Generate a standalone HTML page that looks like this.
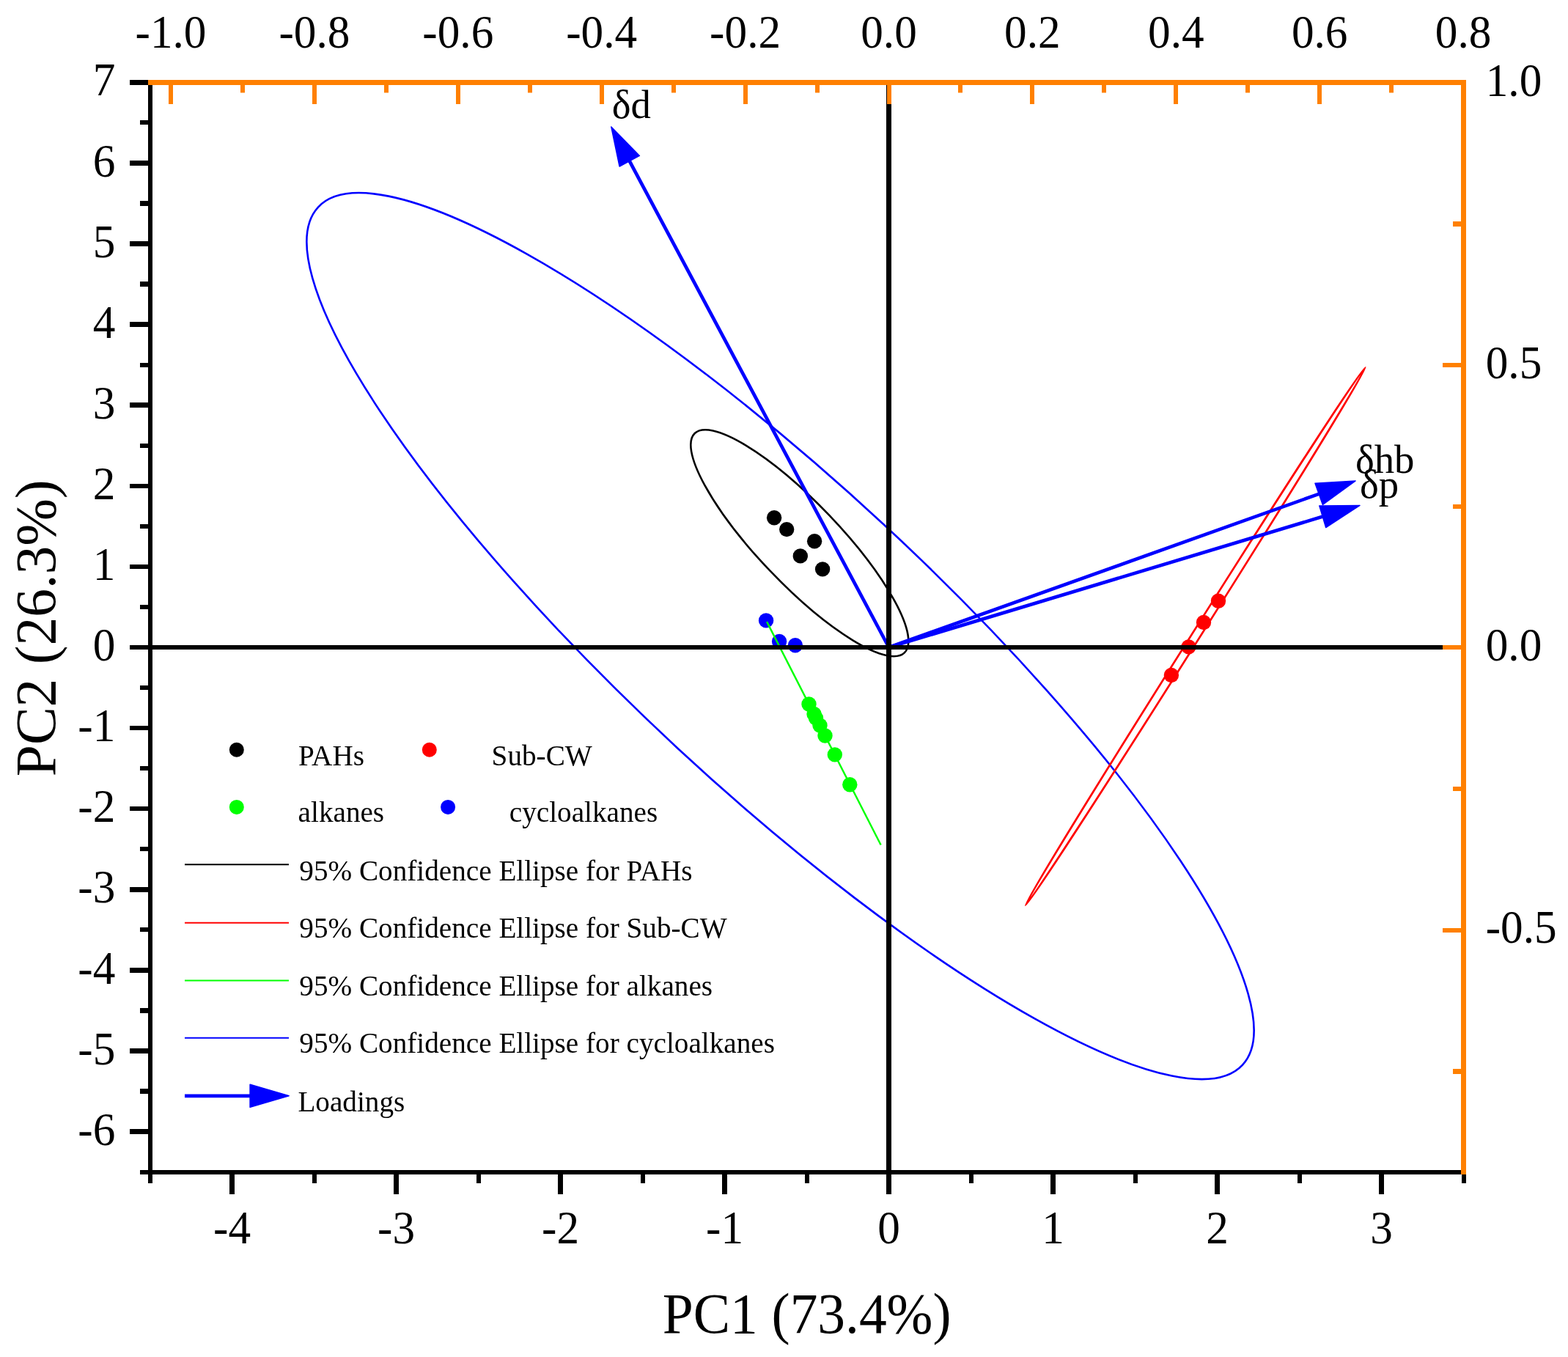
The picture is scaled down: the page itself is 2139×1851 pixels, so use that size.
<!DOCTYPE html>
<html><head><meta charset="utf-8"><title>PCA biplot</title>
<style>html,body{margin:0;padding:0;background:#fff;}svg{display:block;}
text{font-family:"Liberation Serif","Times New Roman",serif;fill:#000;}</style></head>
<body><svg width="2139" height="1851" viewBox="0 0 2139 1851">
<rect width="2139" height="1851" fill="#fff"/>
<circle cx="1056.1" cy="706.2" r="10.2" fill="#000"/>
<circle cx="1073.2" cy="722.1" r="10.2" fill="#000"/>
<circle cx="1111.1" cy="738.2" r="10.2" fill="#000"/>
<circle cx="1091.8" cy="758.4" r="10.2" fill="#000"/>
<circle cx="1122.1" cy="776.4" r="10.2" fill="#000"/>
<circle cx="1662" cy="819.8" r="10.2" fill="#FF0000"/>
<circle cx="1642" cy="849" r="10.2" fill="#FF0000"/>
<circle cx="1621.5" cy="882.4" r="10.2" fill="#FF0000"/>
<circle cx="1597.9" cy="921" r="10.2" fill="#FF0000"/>
<circle cx="1045.07" cy="846.4" r="10.2" fill="#0000FF"/>
<circle cx="1063.05" cy="875" r="10.2" fill="#0000FF"/>
<circle cx="1084.9" cy="880.3" r="10.2" fill="#0000FF"/>
<circle cx="1103.5" cy="960.5" r="10.2" fill="#00FF00"/>
<circle cx="1110.5" cy="974" r="10.2" fill="#00FF00"/>
<circle cx="1113" cy="979.5" r="10.2" fill="#00FF00"/>
<circle cx="1118.5" cy="989.5" r="10.2" fill="#00FF00"/>
<circle cx="1125.5" cy="1003.5" r="10.2" fill="#00FF00"/>
<circle cx="1138.8" cy="1029.4" r="10.2" fill="#00FF00"/>
<circle cx="1159.3" cy="1070.2" r="10.2" fill="#00FF00"/>
<ellipse cx="1064.5" cy="867.6" rx="860.1" ry="207.5" transform="rotate(42.86 1064.5 867.6)" fill="none" stroke="#0000FF" stroke-width="2.6"/>
<ellipse cx="1090.8" cy="740.7" rx="207.0" ry="55.35" transform="rotate(46.3 1090.8 740.7)" fill="none" stroke="#000" stroke-width="2.6"/>
<ellipse cx="1630.75" cy="868.0" rx="434" ry="5.6" transform="rotate(-57.72 1630.75 868.0)" fill="none" stroke="#FF0000" stroke-width="2.6"/>
<line x1="1046.1" y1="848.1" x2="1201.6" y2="1152.5" stroke="#00FF00" stroke-width="2.4"/>
<line x1="1212.5" y1="883.0" x2="857.8" y2="217.9" stroke="#0000FF" stroke-width="4.7"/><polygon points="833.8,172.9 872.4,212.4 845.1,227.0" fill="#0000FF" stroke="#0000FF" stroke-width="1.5" stroke-linejoin="round"/>
<line x1="1212.5" y1="883.0" x2="1801.1" y2="673.1" stroke="#0000FF" stroke-width="4.7"/><polygon points="1849.1,656.0 1804.4,688.4 1794.0,659.2" fill="#0000FF" stroke="#0000FF" stroke-width="1.5" stroke-linejoin="round"/>
<line x1="1212.5" y1="883.0" x2="1806.2" y2="704.1" stroke="#0000FF" stroke-width="4.7"/><polygon points="1855.0,689.4 1808.7,719.5 1799.8,689.9" fill="#0000FF" stroke="#0000FF" stroke-width="1.5" stroke-linejoin="round"/>
<rect x="208" y="880" width="1785" height="6" fill="#000"/>
<rect x="1209" y="116" width="7" height="1480" fill="#000"/>
<rect x="202" y="109" width="6" height="1505" fill="#000"/>
<rect x="191" y="1596" width="1802" height="6" fill="#000"/>
<rect x="177" y="1540" width="25" height="7" fill="#000"/>
<rect x="177" y="1430" width="25" height="7" fill="#000"/>
<rect x="177" y="1320" width="25" height="7" fill="#000"/>
<rect x="177" y="1210" width="25" height="7" fill="#000"/>
<rect x="177" y="1100" width="25" height="6" fill="#000"/>
<rect x="177" y="990" width="25" height="6" fill="#000"/>
<rect x="177" y="880" width="25" height="6" fill="#000"/>
<rect x="177" y="770" width="25" height="6" fill="#000"/>
<rect x="177" y="660" width="25" height="6" fill="#000"/>
<rect x="177" y="549" width="25" height="7" fill="#000"/>
<rect x="177" y="439" width="25" height="7" fill="#000"/>
<rect x="177" y="329" width="25" height="7" fill="#000"/>
<rect x="177" y="219" width="25" height="7" fill="#000"/>
<rect x="177" y="109" width="25" height="7" fill="#000"/>
<rect x="191" y="1596" width="11" height="6" fill="#000"/>
<rect x="191" y="1485" width="11" height="7" fill="#000"/>
<rect x="191" y="1375" width="11" height="7" fill="#000"/>
<rect x="191" y="1265" width="11" height="6" fill="#000"/>
<rect x="191" y="1155" width="11" height="6" fill="#000"/>
<rect x="191" y="1045" width="11" height="6" fill="#000"/>
<rect x="191" y="935" width="11" height="6" fill="#000"/>
<rect x="191" y="825" width="11" height="6" fill="#000"/>
<rect x="191" y="715" width="11" height="6" fill="#000"/>
<rect x="191" y="605" width="11" height="6" fill="#000"/>
<rect x="191" y="495" width="11" height="6" fill="#000"/>
<rect x="191" y="384" width="11" height="7" fill="#000"/>
<rect x="191" y="274" width="11" height="7" fill="#000"/>
<rect x="191" y="164" width="11" height="6" fill="#000"/>
<rect x="313" y="1602" width="7" height="27" fill="#000"/>
<rect x="537" y="1602" width="7" height="27" fill="#000"/>
<rect x="761" y="1602" width="7" height="27" fill="#000"/>
<rect x="985" y="1602" width="7" height="27" fill="#000"/>
<rect x="1209" y="1602" width="7" height="27" fill="#000"/>
<rect x="1433" y="1602" width="7" height="27" fill="#000"/>
<rect x="1657" y="1602" width="7" height="27" fill="#000"/>
<rect x="1881" y="1602" width="7" height="27" fill="#000"/>
<rect x="426" y="1602" width="6" height="12" fill="#000"/>
<rect x="650" y="1602" width="6" height="12" fill="#000"/>
<rect x="874" y="1602" width="6" height="12" fill="#000"/>
<rect x="1098" y="1602" width="6" height="12" fill="#000"/>
<rect x="1322" y="1602" width="6" height="12" fill="#000"/>
<rect x="1546" y="1602" width="6" height="12" fill="#000"/>
<rect x="1770" y="1602" width="6" height="12" fill="#000"/>
<rect x="1994" y="1602" width="6" height="12" fill="#000"/>
<rect x="202" y="109" width="1798" height="7" fill="#FF8000"/>
<rect x="177" y="109" width="25" height="7" fill="#000"/>
<rect x="1993" y="109" width="7" height="1493" fill="#FF8000"/>
<rect x="230" y="116" width="6" height="26" fill="#FF8000"/>
<rect x="426" y="116" width="6" height="26" fill="#FF8000"/>
<rect x="622" y="116" width="6" height="26" fill="#FF8000"/>
<rect x="818" y="116" width="6" height="26" fill="#FF8000"/>
<rect x="1014" y="116" width="6" height="26" fill="#FF8000"/>
<rect x="1210" y="116" width="6" height="26" fill="#FF8000"/>
<rect x="1405" y="116" width="6" height="26" fill="#FF8000"/>
<rect x="1601" y="116" width="6" height="26" fill="#FF8000"/>
<rect x="1797" y="116" width="6" height="26" fill="#FF8000"/>
<rect x="1993" y="116" width="6" height="26" fill="#FF8000"/>
<rect x="328" y="116" width="6" height="10.5" fill="#FF8000"/>
<rect x="524" y="116" width="6" height="10.5" fill="#FF8000"/>
<rect x="720" y="116" width="6" height="10.5" fill="#FF8000"/>
<rect x="916" y="116" width="6" height="10.5" fill="#FF8000"/>
<rect x="1112" y="116" width="6" height="10.5" fill="#FF8000"/>
<rect x="1307" y="116" width="6" height="10.5" fill="#FF8000"/>
<rect x="1503" y="116" width="6" height="10.5" fill="#FF8000"/>
<rect x="1699" y="116" width="6" height="10.5" fill="#FF8000"/>
<rect x="1895" y="116" width="6" height="10.5" fill="#FF8000"/>
<rect x="1968" y="1266" width="25" height="6" fill="#FF8000"/>
<rect x="1968" y="880" width="25" height="6" fill="#FF8000"/>
<rect x="1968" y="495" width="25" height="6" fill="#FF8000"/>
<rect x="1968" y="110" width="25" height="6" fill="#FF8000"/>
<rect x="1982" y="1458" width="11" height="7" fill="#FF8000"/>
<rect x="1982" y="1073" width="11" height="6" fill="#FF8000"/>
<rect x="1982" y="688" width="11" height="6" fill="#FF8000"/>
<rect x="1982" y="302" width="11" height="7" fill="#FF8000"/>
<text transform="translate(157.30,1561.70) scale(0.968,1)" font-size="63.3" text-anchor="end">-6</text>
<text transform="translate(157.30,1451.60) scale(0.968,1)" font-size="63.3" text-anchor="end">-5</text>
<text transform="translate(157.30,1341.50) scale(0.968,1)" font-size="63.3" text-anchor="end">-4</text>
<text transform="translate(157.30,1231.40) scale(0.968,1)" font-size="63.3" text-anchor="end">-3</text>
<text transform="translate(157.30,1121.30) scale(0.968,1)" font-size="63.3" text-anchor="end">-2</text>
<text transform="translate(157.30,1011.20) scale(0.968,1)" font-size="63.3" text-anchor="end">-1</text>
<text transform="translate(157.30,901.10) scale(0.968,1)" font-size="63.3" text-anchor="end">0</text>
<text transform="translate(157.30,791.00) scale(0.968,1)" font-size="63.3" text-anchor="end">1</text>
<text transform="translate(157.30,680.90) scale(0.968,1)" font-size="63.3" text-anchor="end">2</text>
<text transform="translate(157.30,570.80) scale(0.968,1)" font-size="63.3" text-anchor="end">3</text>
<text transform="translate(157.30,460.70) scale(0.968,1)" font-size="63.3" text-anchor="end">4</text>
<text transform="translate(157.30,350.60) scale(0.968,1)" font-size="63.3" text-anchor="end">5</text>
<text transform="translate(157.30,240.50) scale(0.968,1)" font-size="63.3" text-anchor="end">6</text>
<text transform="translate(157.30,130.40) scale(0.968,1)" font-size="63.3" text-anchor="end">7</text>
<text transform="translate(316.50,1696.10) scale(0.968,1)" font-size="63.3" text-anchor="middle">-4</text>
<text transform="translate(540.50,1696.10) scale(0.968,1)" font-size="63.3" text-anchor="middle">-3</text>
<text transform="translate(764.50,1696.10) scale(0.968,1)" font-size="63.3" text-anchor="middle">-2</text>
<text transform="translate(988.50,1696.10) scale(0.968,1)" font-size="63.3" text-anchor="middle">-1</text>
<text transform="translate(1212.50,1696.10) scale(0.968,1)" font-size="63.3" text-anchor="middle">0</text>
<text transform="translate(1436.50,1696.10) scale(0.968,1)" font-size="63.3" text-anchor="middle">1</text>
<text transform="translate(1660.50,1696.10) scale(0.968,1)" font-size="63.3" text-anchor="middle">2</text>
<text transform="translate(1884.50,1696.10) scale(0.968,1)" font-size="63.3" text-anchor="middle">3</text>
<text transform="translate(233.00,65.20) scale(0.968,1)" font-size="63.3" text-anchor="middle">-1.0</text>
<text transform="translate(428.90,65.20) scale(0.968,1)" font-size="63.3" text-anchor="middle">-0.8</text>
<text transform="translate(624.80,65.20) scale(0.968,1)" font-size="63.3" text-anchor="middle">-0.6</text>
<text transform="translate(820.70,65.20) scale(0.968,1)" font-size="63.3" text-anchor="middle">-0.4</text>
<text transform="translate(1016.60,65.20) scale(0.968,1)" font-size="63.3" text-anchor="middle">-0.2</text>
<text transform="translate(1212.50,65.20) scale(0.968,1)" font-size="63.3" text-anchor="middle">0.0</text>
<text transform="translate(1408.40,65.20) scale(0.968,1)" font-size="63.3" text-anchor="middle">0.2</text>
<text transform="translate(1604.30,65.20) scale(0.968,1)" font-size="63.3" text-anchor="middle">0.4</text>
<text transform="translate(1800.20,65.20) scale(0.968,1)" font-size="63.3" text-anchor="middle">0.6</text>
<text transform="translate(1996.10,65.20) scale(0.968,1)" font-size="63.3" text-anchor="middle">0.8</text>
<text transform="translate(2026.70,130.50) scale(0.968,1)" font-size="63.3" text-anchor="start">1.0</text>
<text transform="translate(2026.70,515.75) scale(0.968,1)" font-size="63.3" text-anchor="start">0.5</text>
<text transform="translate(2026.70,901.00) scale(0.968,1)" font-size="63.3" text-anchor="start">0.0</text>
<text transform="translate(2026.70,1286.25) scale(0.968,1)" font-size="63.3" text-anchor="start">-0.5</text>
<text transform="translate(834.70,161.00) scale(0.985,1)" font-size="55.6" text-anchor="start">δd</text>
<text transform="translate(1848.90,645.00) scale(0.985,1)" font-size="55.6" text-anchor="start">δhb</text>
<text transform="translate(1854.90,678.70) scale(0.985,1)" font-size="55.6" text-anchor="start">δp</text>
<text transform="translate(903.70,1818.20) scale(0.967,1)" font-size="78" text-anchor="start">PC1 (73.4%)</text>
<text transform="translate(74.90,1059.20) rotate(-90) scale(0.994,1)" font-size="78" text-anchor="start">PC2 (26.3%)</text>
<circle cx="322.8" cy="1022.8" r="10" fill="#000"/>
<circle cx="585.8" cy="1022.8" r="10" fill="#FF0000"/>
<circle cx="322.8" cy="1100.9" r="10" fill="#00FF00"/>
<circle cx="611.1" cy="1100.9" r="10" fill="#0000FF"/>
<text transform="translate(406.90,1044.00) scale(0.98,1)" font-size="40" text-anchor="start">PAHs</text>
<text transform="translate(670.60,1044.00) scale(0.98,1)" font-size="40" text-anchor="start">Sub-CW</text>
<text transform="translate(406.60,1121.10) scale(0.98,1)" font-size="40" text-anchor="start">alkanes</text>
<text transform="translate(694.80,1121.10) scale(0.98,1)" font-size="40" text-anchor="start">cycloalkanes</text>
<line x1="252" y1="1179.2" x2="394" y2="1179.2" stroke="#000" stroke-width="2"/>
<text transform="translate(408.30,1200.70) scale(0.98,1)" font-size="40" text-anchor="start">95% Confidence Ellipse for PAHs</text>
<line x1="252" y1="1258.7" x2="394" y2="1258.7" stroke="#FF0000" stroke-width="2"/>
<text transform="translate(408.30,1279.20) scale(0.98,1)" font-size="40" text-anchor="start">95% Confidence Ellipse for Sub-CW</text>
<line x1="252" y1="1337.4" x2="394" y2="1337.4" stroke="#00FF00" stroke-width="2"/>
<text transform="translate(408.30,1357.70) scale(0.98,1)" font-size="40" text-anchor="start">95% Confidence Ellipse for alkanes</text>
<line x1="252" y1="1415.7" x2="394" y2="1415.7" stroke="#0000FF" stroke-width="2"/>
<text transform="translate(408.30,1436.20) scale(0.98,1)" font-size="40" text-anchor="start">95% Confidence Ellipse for cycloalkanes</text>
<line x1="252.0" y1="1494.8" x2="343.1" y2="1494.8" stroke="#0000FF" stroke-width="4.7"/><polygon points="394.1,1494.8 341.1,1510.3 341.1,1479.3" fill="#0000FF" stroke="#0000FF" stroke-width="1.5" stroke-linejoin="round"/>
<text transform="translate(406.40,1515.70) scale(0.98,1)" font-size="40" text-anchor="start">Loadings</text>
</svg></body></html>
